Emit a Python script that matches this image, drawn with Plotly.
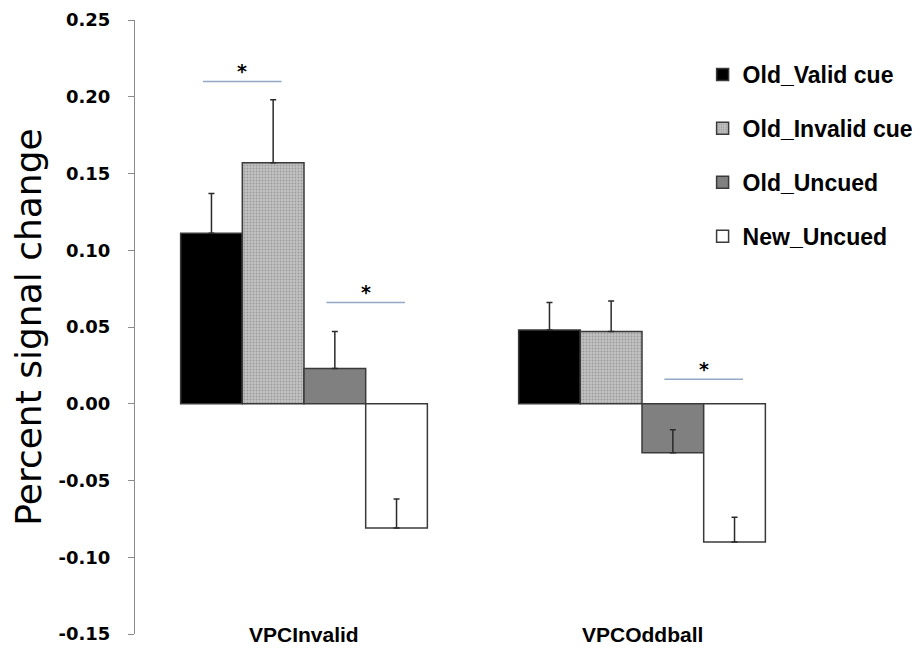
import plotly.graph_objects as go

categories = ["VPCInvalid", "VPCOddball"]
series_names = ["Old_Valid cue", "Old_Invalid cue", "Old_Uncued", "New_Uncued"]
old_valid = [0.111, 0.048]
old_valid_err = [0.026, 0.018]
old_invalid = [0.157, 0.047]
old_invalid_err = [0.041, 0.020]
old_uncued = [0.023, -0.032]
old_uncued_err = [0.024, 0.015]
new_uncued = [-0.081, -0.090]
new_uncued_err = [0.019, 0.016]
y_ticks = [0.25, 0.20, 0.15, 0.10, 0.05, 0.00, -0.05, -0.10, -0.15]
# significance comparisons: (category index, first bar index, second bar index, bracket value)
sig_pairs = [(0, 0, 1, 0.21), (0, 2, 3, 0.066), (1, 2, 3, 0.016)]

values = [old_valid, old_invalid, old_uncued, new_uncued]
errors = [old_valid_err, old_invalid_err, old_uncued_err, new_uncued_err]

styles = [
    dict(color="#000000"),
    dict(color="#bdbdbd", pattern=dict(shape=".", fgcolor="#707070", bgcolor="#c2c2c2",
                                       size=3, solidity=0.3, fillmode="overlay")),
    dict(color="#808080"),
    dict(color="#ffffff"),
]

fig = go.Figure()
xpos = list(range(len(categories)))
for i, (name, vals, errs) in enumerate(zip(series_names, values, errors)):
    mk = dict(styles[i])
    mk["line"] = dict(color="#3a3a3a", width=1.5)
    fig.add_trace(go.Bar(
        name="<b>" + name + "</b>", x=xpos, y=vals, marker=mk, legendgroup=name,
        error_y=dict(type="data", array=errs, arrayminus=[0] * len(errs), symmetric=False,
                     color="#2a2a2a", thickness=1.5, width=3),
    ))

bargap = 0.27
nb = len(series_names)
bw = (1 - bargap) / nb

def bar_center(cat, b):
    return cat - (1 - bargap) / 2 + bw * (b + 0.5)

for cat, a, b, yv in sig_pairs:
    x0 = bar_center(cat, a) - 0.025
    x1 = bar_center(cat, b) + 0.025
    fig.add_shape(type="line", x0=x0, x1=x1, y0=yv, y1=yv, xref="x", yref="y",
                  line=dict(color="#94a7c6", width=1.5))
    fig.add_annotation(x=(x0 + x1) / 2, y=yv, text="<b>*</b>", showarrow=False,
                       yanchor="bottom", yshift=-3, font=dict(size=19, color="#000000",
                                                             family="DejaVu Sans"))

for i, c in enumerate(categories):
    fig.add_annotation(x=i, y=0, yref="paper", text="<b>" + c + "</b>", showarrow=False,
                       yanchor="middle", yshift=0,
                       font=dict(size=21, family="Liberation Sans", color="#000000"))

fig.update_layout(
    width=920, height=650,
    margin=dict(l=127, r=117, t=12, b=24, autoexpand=False),
    paper_bgcolor="white", plot_bgcolor="white",
    barmode="group", bargap=bargap, bargroupgap=0,
    showlegend=True,
    legend=dict(xref="container", yref="container", x=0.755, y=1 - 45 / 650,
                xanchor="left", yanchor="top", bgcolor="rgba(0,0,0,0)",
                font=dict(size=23, family="Liberation Sans", color="#000000"),
                tracegroupgap=21, itemclick=False),
    xaxis=dict(range=[-0.5, 1.5], showline=False, showticklabels=False, ticks="",
               showgrid=False, zeroline=False),
    yaxis=dict(range=[-0.15, 0.25], tickvals=y_ticks,
               ticktext=["<b>%.2f</b>" % v for v in y_ticks],
               showline=True, linecolor="#8a8a8a", linewidth=1, ticks="outside",
               ticklen=6, tickcolor="#8a8a8a", showgrid=False, zeroline=False,
               ticklabelstandoff=14,
               tickfont=dict(size=18, family="DejaVu Sans", color="#000000"),
               title=dict(text="Percent signal change", standoff=22,
                          font=dict(size=36, family="DejaVu Sans", color="#000000"))),
)

fig.write_html("out.html")
